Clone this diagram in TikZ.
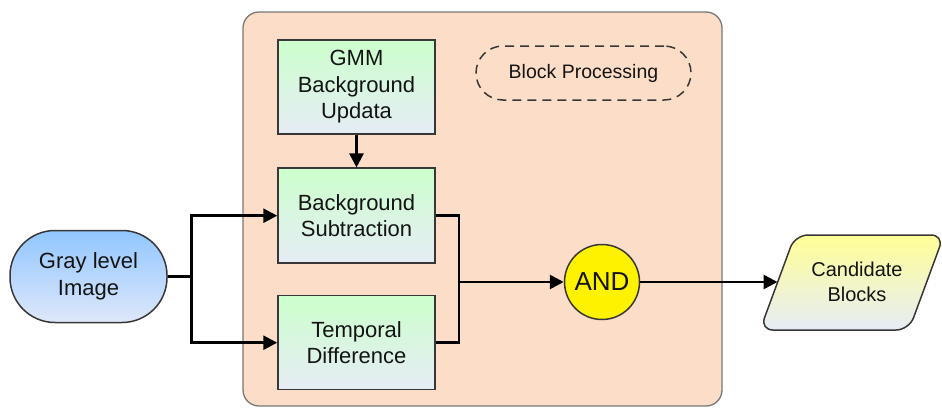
\documentclass[tikz,border=0pt]{standalone}
\usepackage{fontspec}
\setmainfont{Liberation Sans}
\usetikzlibrary{arrows.meta,shapes.geometric}
\definecolor{panelfill}{RGB}{252,222,200}
\definecolor{panelline}{RGB}{120,120,120}
\definecolor{boxline}{RGB}{55,55,55}
\definecolor{greentop}{RGB}{204,255,204}
\definecolor{paleblue}{RGB}{230,236,246}
\definecolor{bluetop}{RGB}{145,198,255}
\definecolor{bluebot}{RGB}{222,232,250}
\definecolor{yellowtop}{RGB}{255,255,150}
\definecolor{txt}{RGB}{20,20,20}
\tikzset{
  label text/.style={text=txt, align=center, font=\fontsize{22}{26.5}\selectfont},
  procbox/.style={label text, draw=boxline, line width=1.5pt, minimum width=157pt,
    minimum height=94pt, top color=greentop, bottom color=paleblue},
  flow/.style={line width=2.7pt, draw=black},
  arrowflow/.style={flow, -{Triangle[length=14pt,width=14pt]}},
}
\begin{document}
\begin{tikzpicture}[x=1pt,y=-1pt]
\useasboundingbox (0,0) rectangle (942,407);

% processing panel
\draw[rounded corners=16pt, fill=panelfill, draw=panelline, line width=1.3pt]
  (243,12) rectangle (722,406);

% input image
\node[label text, draw=boxline, line width=1.5pt, rounded corners=45pt,
  minimum width=157pt, minimum height=92pt, top color=bluetop, bottom color=bluebot]
  (gray) at (88.5,276.5) {Gray level\\Image};

% processing steps
\node[procbox] (gmm) at (356.5,87) {GMM\\Background\\Updata};
\node[procbox, minimum height=95pt] (bs) at (356.5,215.7) {Background\\Subtraction};
\node[procbox] (td) at (356.5,342.7) {Temporal\\Difference};

% legend tag
\node[text=txt, font=\fontsize{19.5}{23}\selectfont, draw=boxline, dash pattern=on 9pt off 6pt,
  line width=1.5pt, rounded corners=27pt, minimum width=215pt, minimum height=54pt]
  (tag) at (583.5,73) {Block Processing};

% combining gate
\node[circle, draw=boxline, line width=1.5pt, fill=yellow, minimum size=75pt,
  inner sep=0pt, text=txt, font=\fontsize{26}{30}\selectfont] (and) at (602,282) {AND};

% output blocks
\draw[draw=boxline, line width=1.5pt, rounded corners=13pt, top color=yellowtop, bottom color=paleblue]
  (795,235) -- (944,235) -- (909,330) -- (760,330) -- cycle;
\node[label text, font=\fontsize{20}{25}\selectfont] (cand) at (857,282) {Candidate\\Blocks};
\coordinate (candin) at (777.5,282);

% connectors
\path (gray.east) -- ++(23.5,0) coordinate (split);
\coordinate (merge) at (459,282);
\draw[flow] (gray.east) -- (split);
\draw[arrowflow] (split) |- (bs.west);
\draw[arrowflow] (split) |- (td.west);
\draw[arrowflow] (gmm.south) -- (bs.north);
\draw[flow] (bs.east) -| (merge);
\draw[flow] (td.east) -| (merge);
\draw[arrowflow] (merge) -- (and.west);
\draw[arrowflow] (and.east) -- (candin);
\end{tikzpicture}
\end{document}
